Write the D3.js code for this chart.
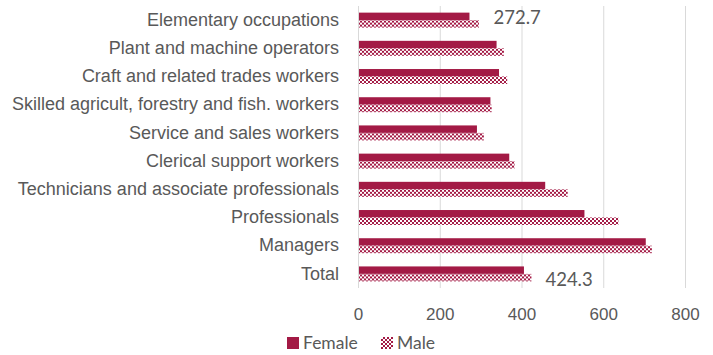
<!DOCTYPE html>
<html>
<head>
<meta charset="utf-8">
<script src="https://cdn.jsdelivr.net/npm/d3@7"></script>
<style>
  html, body { margin: 0; padding: 0; background: #fff; }
  svg { display: block; font-family: Lato, "Open Sans", "Liberation Sans", sans-serif; }
</style>
</head>
<body>
<svg id="chart" width="713" height="355"></svg>
<script>
// Occupation groups, top to bottom
const categories = [
  "Elementary occupations",
  "Plant and machine operators",
  "Craft and related trades workers",
  "Skilled agricult, forestry and fish. workers",
  "Service and sales workers",
  "Clerical support workers",
  "Technicians and associate professionals",
  "Professionals",
  "Managers",
  "Total"
];
const femaleValues = [272.7, 339, 345, 324, 291, 370, 458, 554, 704, 406];
const maleValues   = [296, 357, 365, 327, 308, 383, 513, 637, 719, 424.3];
const xTicks = [0, 200, 400, 600, 800];
const seriesNames = ["Female", "Male"];

// Values printed next to their bars: [series, category index, dx, dy]
const valueLabels = [
  ["Female", 0, 24, 1.5],
  ["Male", 9, 14, 2]
];

const color = "#a31a45";
const textColor = "#595959";
const gridColor = "#d9d9d9";

const svg = d3.select("#chart");
const defs = svg.append("defs");
const pat = defs.append("pattern")
  .attr("id", "checker")
  .attr("patternUnits", "userSpaceOnUse")
  .attr("width", 4).attr("height", 4);
pat.append("rect").attr("width", 4).attr("height", 4).attr("fill", "#fff");
pat.append("rect").attr("x", 0).attr("y", 0).attr("width", 2).attr("height", 2).attr("fill", color);
pat.append("rect").attr("x", 2).attr("y", 2).attr("width", 2).attr("height", 2).attr("fill", color);

const plot = { left: 358, right: 685, top: 6, bottom: 288 };

const x = d3.scaleLinear().domain([0, 800]).range([plot.left, plot.right]);
const y = d3.scaleBand().domain(categories).range([plot.top, plot.bottom]).paddingInner(0.47).paddingOuter(0.235);
const ySub = d3.scaleBand().domain(seriesNames).range([0, y.bandwidth()]);

// Vertical gridlines
svg.append("g").selectAll("line").data(xTicks).join("line")
  .attr("x1", d => x(d) + 0.5).attr("x2", d => x(d) + 0.5)
  .attr("y1", plot.top).attr("y2", plot.bottom)
  .attr("stroke", gridColor).attr("stroke-width", 1);

// X axis tick labels
const xAxis = d3.axisBottom(x).tickValues(xTicks).tickSize(0).tickPadding(0);
const gx = svg.append("g").attr("transform", `translate(0,${plot.bottom + 20})`).call(xAxis);
gx.select(".domain").remove();
gx.selectAll("text").attr("fill", textColor).attr("font-size", 17).attr("font-family", null)
  .attr("dy", "0.71em");

// Category labels
const yAxis = d3.axisLeft(y).tickSize(0).tickPadding(0);
const gy = svg.append("g").attr("transform", `translate(${plot.left - 19},0)`).call(yAxis);
gy.select(".domain").remove();
gy.selectAll("text").attr("fill", textColor).attr("font-size", 18).attr("font-family", null);

// Bars
const rows = categories.map((c, i) => ({ c, Female: femaleValues[i], Male: maleValues[i] }));
const groups = svg.append("g").selectAll("g").data(rows).join("g")
  .attr("transform", d => `translate(0,${y(d.c)})`);
groups.selectAll("rect").data(d => seriesNames.map(s => ({ s, v: d[s] }))).join("rect")
  .attr("x", x(0) + 1)
  .attr("y", d => ySub(d.s))
  .attr("width", d => x(d.v) - x(0) - 1)
  .attr("height", ySub.bandwidth())
  .attr("fill", d => d.s === "Female" ? color : "url(#checker)");

// Value labels
svg.append("g").selectAll("text").data(valueLabels).join("text")
  .attr("x", d => x(d[0] === "Female" ? femaleValues[d[1]] : maleValues[d[1]]) + d[2])
  .attr("y", d => y(categories[d[1]]) + ySub(d[0]) + ySub.bandwidth() / 2 + d[3])
  .attr("dy", "0.35em")
  .attr("fill", textColor).attr("font-size", 18.5)
  .text(d => d3.format(".1f")(d[0] === "Female" ? femaleValues[d[1]] : maleValues[d[1]]));

// Legend
const legend = svg.append("g").attr("transform", "translate(287,343)");
const legendItems = legend.selectAll("g").data(seriesNames).join("g")
  .attr("transform", (d, i) => `translate(${i * 94},0)`);
legendItems.append("rect")
  .attr("x", 0).attr("y", -6).attr("width", 12).attr("height", 12)
  .attr("fill", d => d === "Female" ? color : "url(#checker)");
legendItems.append("text")
  .attr("x", 16).attr("dy", "0.35em")
  .attr("fill", textColor).attr("font-size", 17.5)
  .text(d => d);
</script>
</body>
</html>
